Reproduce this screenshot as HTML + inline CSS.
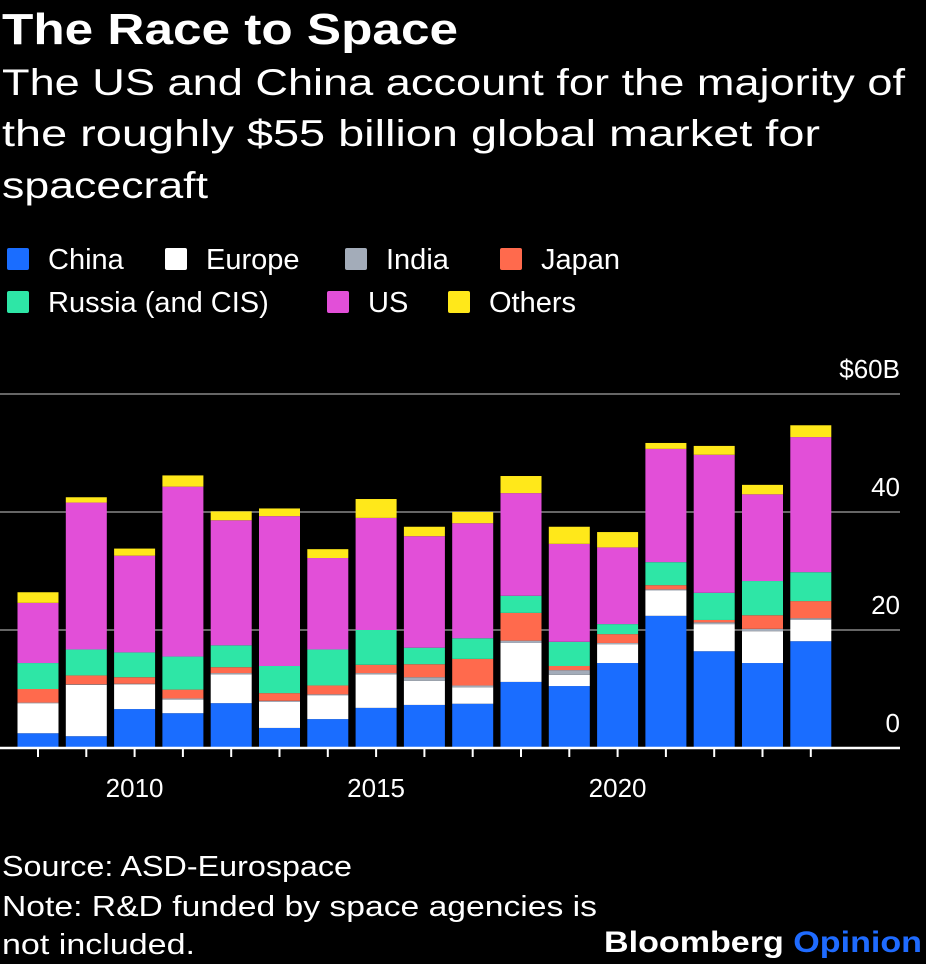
<!DOCTYPE html>
<html><head><meta charset="utf-8"><style>
html,body{margin:0;padding:0;background:#000;}
svg{display:block;font-family:"Liberation Sans",sans-serif;}
</style></head><body>
<svg id="chart" width="926" height="964" viewBox="0 0 926 964">
<rect x="0" y="0" width="926" height="964" fill="#000"/>
<text x="2" y="44" fill="#fff" font-size="44" font-weight="bold" textLength="456" lengthAdjust="spacingAndGlyphs">The Race to Space</text>
<g fill="#fff" font-size="37">
<text x="2" y="95" textLength="903" lengthAdjust="spacingAndGlyphs">The US and China account for the majority of</text>
<text x="2" y="146" textLength="818" lengthAdjust="spacingAndGlyphs">the roughly $55 billion global market for</text>
<text x="2" y="198" textLength="206" lengthAdjust="spacingAndGlyphs">spacecraft</text>
</g>
<g id="legend" font-size="29" fill="#fff"></g>
<g id="grid"></g>
<g id="bars"></g>
<g id="axis"></g>
<g fill="#fff" font-size="29">
<text x="2" y="876" textLength="350" lengthAdjust="spacingAndGlyphs">Source: ASD-Eurospace</text>
<text x="2" y="916" textLength="595" lengthAdjust="spacingAndGlyphs">Note: R&amp;D funded by space agencies is</text>
<text x="2" y="954" textLength="193" lengthAdjust="spacingAndGlyphs">not included.</text>
</g>
<text x="604" y="952" font-size="30" font-weight="bold" fill="#fff" textLength="318" lengthAdjust="spacingAndGlyphs">Bloomberg <tspan fill="#1f6bff">Opinion</tspan></text>
</svg>
<script>
const years = [2008,2009,2010,2011,2012,2013,2014,2015,2016,2017,2018,2019,2020,2021,2022,2023,2024];
const seriesNames = ["China","Europe","India","Japan","Russia (and CIS)","US","Others"];
const china  = [2.5,2.0,6.6,5.9,7.6,3.4,4.9,6.8,7.3,7.5,11.2,10.5,14.4,22.4,16.4,14.4,18.1];
const europe = [5.1,8.7,4.2,2.3,4.9,4.4,4.0,5.7,4.1,2.8,6.6,1.9,3.2,4.3,4.6,5.4,3.6];
const india  = [0.1,0.1,0.1,0.2,0.2,0.2,0.2,0.2,0.6,0.3,0.4,0.8,0.2,0.2,0.3,0.4,0.3];
const japan  = [2.3,1.5,1.1,1.5,1.0,1.3,1.5,1.4,2.2,4.5,4.7,0.7,1.5,0.7,0.4,2.3,2.9];
const russia = [4.4,4.4,4.2,5.6,3.7,4.6,6.1,5.9,2.8,3.5,2.9,4.1,1.7,3.9,4.6,5.8,4.9];
const us     = [10.2,24.9,16.4,28.8,21.2,25.4,15.5,19.0,18.9,19.5,17.4,16.6,13.0,19.2,23.4,14.7,22.9];
const others = [1.8,0.9,1.2,1.9,1.5,1.3,1.5,3.2,1.6,1.9,2.9,2.9,2.6,1.0,1.5,1.6,2.0];
const yTicks = [0,20,40,60];
const yTickLabels = ["0","20","40","$60B"];
const xTickLabels = [2010,2015,2020];

const colors = ["#1a6dff","#ffffff","#a3acb9","#ff6a4d","#2ee6a6","#e24fd8","#ffe81a"];
const series = [china,europe,india,japan,russia,us,others];
const NS = "http://www.w3.org/2000/svg";
const y0 = 748, pxPerUnit = 5.9, x0 = 17.5, step = 48.3, bw = 41;
const yScale = v => y0 - v * pxPerUnit;
const xScale = yr => x0 + (yr - years[0]) * step;
function mk(tag, attrs, parent){const e=document.createElementNS(NS,tag);for(const k in attrs)e.setAttribute(k,attrs[k]);parent.appendChild(e);return e;}

// legend
const legend = document.getElementById('legend');
const legPos = [[7,259],[165,259],[345,259],[500,259],[7,302],[327,302],[448,302]];
seriesNames.forEach((n,i)=>{
  const [lx,ly] = legPos[i];
  const r = mk('rect',{x:lx,y:ly-11,width:22,height:22,rx:2,fill:colors[i]},legend);
  
  
  const t = mk('text',{x:lx+41,y:ly+10},legend);
  t.textContent = n;
  
  
});

// grid
const grid = document.getElementById('grid');
yTicks.forEach((v,i)=>{
  if(v>0){
    const l = mk('line',{x1:0,x2:900,y1:yScale(v),y2:yScale(v),stroke:'#666','stroke-width':2},grid);
    
    
  }
  const t = mk('text',{x:900,y:yScale(v)-16,fill:'#fff','font-size':26,'text-anchor':'end'},grid);
  t.textContent = yTickLabels[i];
  
  
});

// bars
const bars = document.getElementById('bars');
years.forEach((yr,j)=>{
  let cum = 0;
  series.forEach((s,i)=>{
    const top = yScale(cum + s[j]), bot = yScale(cum);
    const r = mk('rect',{x:xScale(yr),y:top,width:bw,height:Math.max(0,bot-top),fill:colors[i]},bars);
    
    
    cum += s[j];
  });
});

// axis
const axis = document.getElementById('axis');
const base = mk('line',{x1:0,x2:900,y1:y0,y2:y0,stroke:'#fff','stroke-width':2.5},axis);


years.forEach(yr=>{
  const cx = xScale(yr)+bw/2;
  const t = mk('line',{x1:cx,x2:cx,y1:y0,y2:y0+9,stroke:'#fff','stroke-width':2},axis);
  
  
});
xTickLabels.forEach(yr=>{
  const t = mk('text',{x:xScale(yr)+bw/2,y:797,fill:'#fff','font-size':26,'text-anchor':'middle'},axis);
  t.textContent = yr;
  
  
});
</script>
</body></html>
